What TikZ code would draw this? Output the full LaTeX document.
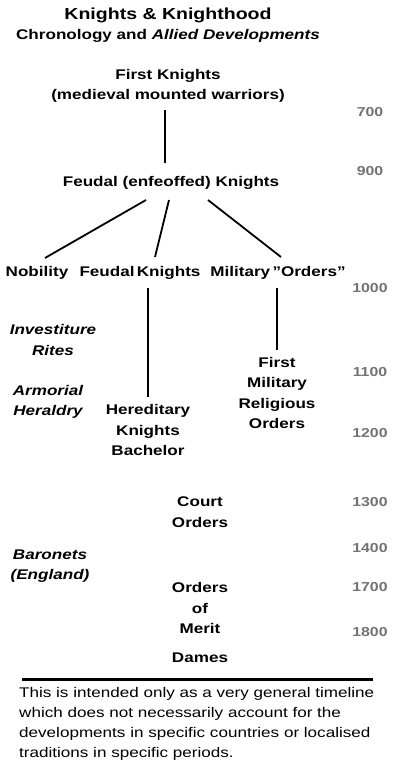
\documentclass[tikz,border=0pt]{standalone}
\usepackage{fontspec}
\setmainfont[FakeStretch=1.22]{Liberation Sans}
\begin{document}
\begin{tikzpicture}[x=1pt,y=-1pt,
  lbl/.style={font=\bfseries\fontsize{14}{20.5}\selectfont, align=center, inner sep=0pt},
  ilbl/.style={font=\bfseries\itshape\fontsize{14}{20.5}\selectfont, align=center, inner sep=0pt},
  yr/.style={font=\bfseries\fontsize{13}{17}\selectfont, text=black!55, inner sep=0pt},
  conn/.style={line width=1.8pt}]
\useasboundingbox (0,0) rectangle (400,774);
\fill[white] (0,0) rectangle (400,774);
% titles
\node[lbl, font=\bfseries\fontsize{16}{20}\selectfont] (title) at (168,15) {Knights \& Knighthood};
\node[lbl, font=\bfseries\fontsize{14}{18}\selectfont] (sub) at (168,36) {Chronology and \textit{Allied Developments}};
% nodes
\node[lbl] (first) at (168,86) {First Knights\\(medieval mounted warriors)};
\node[lbl] (feudal) at (171,183) {Feudal (enfeoffed) Knights};
\node[lbl] (nob) at (37,273) {Nobility};
\node[lbl] (fk) at (140,273) {Feudal\,Knights};
\node[lbl] (mil) at (278,273) {Military\,''Orders''};
\node[ilbl] (inv) at (53,340) {Investiture\\Rites};
\node[lbl] (fmro) at (277,393) {First\\Military\\Religious\\Orders};
\node[ilbl] (arm) at (48,402) {Armorial\\Heraldry};
\node[lbl] (hkb) at (148,430) {Hereditary\\Knights\\Bachelor};
\node[lbl] (court) at (200,512) {Court\\Orders};
\node[ilbl] (bar) at (50,566) {Baronets\\(England)};
\node[lbl] (merit) at (200,608) {Orders\\of\\Merit};
\node[lbl] (dames) at (200,658) {Dames};
% years
\node[yr] (y700) at (370,112) {700};
\node[yr] (y900) at (370,171) {900};
\node[yr] (y1000) at (370,288) {1000};
\node[yr] (y1100) at (370,372) {1100};
\node[yr] (y1200) at (370,433) {1200};
\node[yr] (y1300) at (370,502) {1300};
\node[yr] (y1400) at (370,548) {1400};
\node[yr] (y1700) at (370,587) {1700};
\node[yr] (y1800) at (370,632) {1800};
% connectors
\coordinate (a1) at (165,110);
\coordinate (a2) at (165,163);
\draw[conn] (a1) -- (a2);
\coordinate (f1) at (146,200);
\coordinate (f2) at (169,200);
\coordinate (f3) at (208,200);
\coordinate (n1) at (45,258);
\coordinate (k1) at (155,257);
\coordinate (m1) at (281,257);
\draw[conn] (f1) -- (n1);
\draw[conn] (f2) -- (k1);
\draw[conn] (f3) -- (m1);
\coordinate (k2) at (148,288);
\coordinate (k3) at (148,397);
\draw[conn] (k2) -- (k3);
\coordinate (m2) at (277,288);
\coordinate (m3) at (277,350);
\draw[conn] (m2) -- (m3);
% rule
\coordinate (r1) at (22,679);
\coordinate (r2) at (373,679);
\draw[line width=3pt] (r1) -- (r2);
% note
\node[anchor=north west, inner sep=0pt, align=left, font=\fontsize{14}{20}\selectfont] (note) at (19,687)
{This is intended only as a very general timeline\\which does not necessarily account for the\\developments in specific countries or localised\\traditions in specific periods.};
\end{tikzpicture}
\end{document}
